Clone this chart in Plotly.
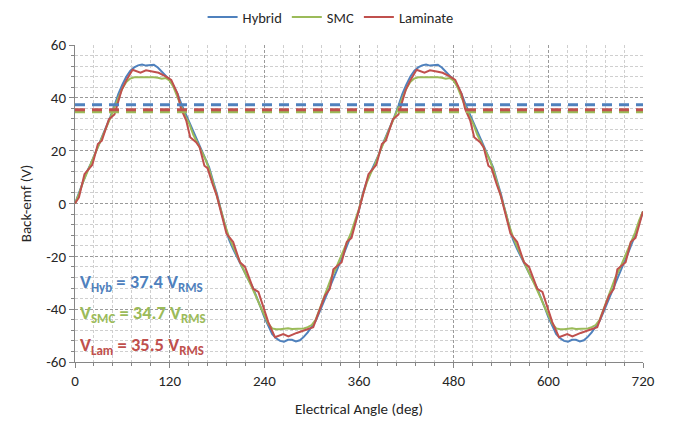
import plotly.graph_objects as go

# ---------------- data ----------------
angle_5 = list(range(0, 725, 5))

hybrid = [
    0, 4, 8.5, 12, 15, 18.5, 22.5, 26, 29, 33, 37, 41.5, 45, 48, 50.2, 51.5, 52.3, 52.6,
    52.2, 52.3, 52.5, 51.5, 50, 48.5, 46.8, 44.5, 41.5, 37.5, 34, 30.5, 27, 23.5, 20, 17,
    13.7, 8.5, 3.5,
    -2.5, -8.5, -13.5, -17, -20, -23, -26.5, -29, -31.5, -35, -39, -43, -46.5, -49.5, -51,
    -52, -52.3, -51.6, -51.6, -52.2, -51.8, -50.5, -48.8, -46.5, -44.5, -41, -37.3, -33.5,
    -30, -26.5, -23, -19.6, -16, -12, -7.5, -2.5,
    4, 8.5, 12, 15, 18.5, 22.5, 26, 29, 33, 37, 41.5, 45, 48, 50.2, 51.5, 52.3, 52.6,
    52.2, 52.3, 52.5, 51.5, 50, 48.5, 46.8, 44.5, 41.5, 37.5, 34, 30.5, 27, 23.5, 20, 17,
    13.7, 8.5, 3.5,
    -2.5, -8.5, -13.5, -17, -20, -23, -26.5, -29, -31.5, -35, -39, -43, -46.5, -49.5, -51,
    -52, -52.3, -51.6, -51.6, -52.2, -51.8, -50.5, -48.8, -46.5, -44.5, -41, -37.3, -33.5,
    -30, -26.5, -23, -19.6, -16, -12, -7.5, -3,
]

smc = [
    0, 3.5, 8, 11.5, 14.5, 18.5, 22, 25.5, 29, 32.5, 36.5, 40, 43.5, 46, 47.3, 47.8, 47.9,
    47.8, 47.8, 47.9, 47.8, 47.6, 47.2, 47.5, 46.5, 44, 40, 36.5, 33, 30, 26, 23, 20, 17,
    13, 8, 3,
    -2.5, -8, -12.5, -16, -19.5, -22.5, -26, -29, -32, -35.5, -39, -42, -45.5, -47.3, -47.6,
    -47.6, -47.4, -47.2, -47.5, -47.5, -47.5, -47.3, -46.8, -46, -44, -40, -35.5, -31.5,
    -28, -25, -21.5, -18, -14.5, -11, -6.5, -2,
    3.5, 8, 11.5, 14.5, 18.5, 22, 25.5, 29, 32.5, 36.5, 40, 43.5, 46, 47.3, 47.8, 47.9,
    47.8, 47.8, 47.9, 47.8, 47.6, 47.2, 47.5, 46.5, 44, 40, 36.5, 33, 30, 26, 23, 20, 17,
    13, 8, 3,
    -2.5, -8, -12.5, -16, -19.5, -22.5, -26, -29, -32, -35.5, -39, -42, -45.5, -47.3, -47.6,
    -47.6, -47.4, -47.2, -47.5, -47.5, -47.5, -47.3, -46.8, -46, -44, -40, -35.5, -31.5,
    -28, -25, -21.5, -18, -14.5, -11, -6.5, -3,
]

laminate_angle = [
    0, 5, 12, 22, 29, 34, 43, 50, 59, 65, 73, 83, 90, 100, 106, 115, 122, 130, 134.5,
    141, 146, 153.5, 158, 164, 168, 174.5, 179.5, 192, 200.5, 209, 215.5, 226, 232.5,
    245, 253.5, 264, 270.5, 281, 293.5, 302, 310.5, 317, 323, 327.5, 338, 344.5, 350.5,
    360,
    365, 372, 382, 389, 394, 403, 410, 419, 425, 433, 443, 450, 460, 466, 475, 482, 490,
    494.5, 501, 506, 513.5, 518, 524, 528, 534.5, 539.5, 552, 560.5, 569, 575.5, 586,
    592.5, 605, 613.5, 624, 630.5, 641, 653.5, 662, 670.5, 677, 683, 687.5, 698, 704.5,
    710.5, 720,
]
laminate = [
    0, 2.3, 11.1, 14.7, 22.5, 23.8, 31.9, 33.7, 42.8, 46.6, 50.6, 49.5, 50.4, 49.9, 49.5,
    48.1, 46.8, 41.5, 35.8, 31.4, 25.1, 23.2, 21.3, 14.3, 13.4, 7.3, 3.2, -11.4, -14.6,
    -22.2, -24, -32.3, -33.5, -44.9, -50.6, -49.4, -50.3, -49, -47.7, -46.8, -39.9, -34.8,
    -32.3, -24.9, -22.2, -14.6, -13, -2.5,
    2.3, 11.1, 14.7, 22.5, 23.8, 31.9, 33.7, 42.8, 46.6, 50.6, 49.5, 50.4, 49.9, 49.5,
    48.1, 46.8, 41.5, 35.8, 31.4, 25.1, 23.2, 21.3, 14.3, 13.4, 7.3, 3.2, -11.4, -14.6,
    -22.2, -24, -32.3, -33.5, -44.9, -50.6, -49.4, -50.3, -49, -47.7, -46.8, -39.9, -34.8,
    -32.3, -24.9, -22.2, -14.6, -13, -3,
]

rms_names = ["Hyb", "SMC", "Lam"]
rms_values = [37.4, 34.7, 35.5]

x_ticks = [0, 120, 240, 360, 480, 600, 720]
y_ticks = [-60, -40, -20, 0, 20, 40, 60]

BLUE = "#4F81BD"
GREEN = "#9BBB59"
RED = "#C0504D"
colors = [BLUE, GREEN, RED]
FONT = "Carlito, Lato, sans-serif"

fig = go.Figure()

fig.add_trace(go.Scatter(x=angle_5, y=hybrid, mode="lines", name="Hybrid",
                         line=dict(color=BLUE, width=2)))
fig.add_trace(go.Scatter(x=angle_5, y=smc, mode="lines", name="SMC",
                         line=dict(color=GREEN, width=2)))
fig.add_trace(go.Scatter(x=laminate_angle, y=laminate, mode="lines", name="Laminate",
                         line=dict(color=RED, width=2)))

# RMS dashed lines
for val, col in zip(rms_values, colors):
    fig.add_trace(go.Scatter(x=[0, 720], y=[val, val], mode="lines", showlegend=False,
                             line=dict(color=col, width=3, dash="10px,7px"),
                             hoverinfo="skip"))

# RMS annotations
ann_y = [-29.8, -41.6, -53.6]
for name, val, col, yy in zip(rms_names, rms_values, colors, ann_y):
    fig.add_annotation(x=4, y=yy, xref="x", yref="y", xanchor="left", yanchor="middle",
                       text=f"<b>V<sub>{name}</sub> = {val} V<sub>RMS</sub></b>",
                       showarrow=False, font=dict(family=FONT, size=18.5, color=col))

# the page body adds an 8px offset, so margins are reduced to compensate
fig.update_layout(
    width=670, height=415,
    margin=dict(l=67, r=35, t=37, b=61, autoexpand=False),
    paper_bgcolor="white", plot_bgcolor="white",
    font=dict(family=FONT, size=15, color="#262626"),
    legend=dict(orientation="h", x=0.45, xanchor="center", y=1.088, yanchor="middle",
                font=dict(size=14.5, color="#262626"), itemwidth=30,
                traceorder="normal", bgcolor="rgba(0,0,0,0)"),
    showlegend=True,
)

fig.update_xaxes(
    range=[0, 720], tickvals=x_ticks, ticktext=[str(v) for v in x_ticks],
    showline=True, linecolor="#868686", linewidth=1,
    ticks="outside", ticklen=5, tickcolor="#868686",
    showgrid=True, gridcolor="#9a9a9a", griddash="3px,2px", gridwidth=1,
    minor=dict(dtick=24, showgrid=True, gridcolor="#cfcfcf", griddash="3px,2px",
               ticks="outside", ticklen=3, tickcolor="#868686"),
    zeroline=False, automargin=False,
    title=dict(text="Electrical Angle (deg)", font=dict(size=15), standoff=14),
    tickfont=dict(size=15),
)
fig.update_yaxes(
    range=[-60, 60], tickvals=y_ticks, ticktext=[str(v) for v in y_ticks],
    showline=True, linecolor="#868686", linewidth=1,
    ticks="outside", ticklen=5, tickcolor="#868686",
    showgrid=True, gridcolor="#9a9a9a", griddash="3px,2px", gridwidth=1,
    minor=dict(dtick=4, showgrid=True, gridcolor="#cfcfcf", griddash="3px,2px",
               ticks="outside", ticklen=3, tickcolor="#868686"),
    zeroline=False, automargin=False,
    title=dict(text="Back-emf (V)", font=dict(size=15), standoff=10),
    tickfont=dict(size=15),
)

fig.write_html("out.html")
